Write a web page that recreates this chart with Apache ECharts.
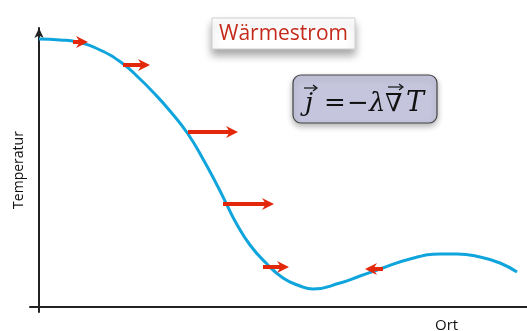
<!DOCTYPE html>
<html>
<head>
<meta charset="utf-8">
<script src="https://cdn.jsdelivr.net/npm/echarts@6/dist/echarts.min.js"></script>
<style>
  html, body { margin: 0; padding: 0; background: #fff; }
  #chart { width: 527px; height: 331px; }
</style>
</head>
<body>
<div id="chart"></div>
<script>
// Temperature profile along the position axis (arbitrary units)
const ortValues = [0, 21, 38, 61, 83, 101, 114, 131, 149, 164, 178, 187, 196, 211, 228, 244, 261, 274, 301, 321, 341, 371, 401, 418, 441, 461, 478];
const temperatur = [268, 267, 265, 257, 244, 228, 215, 196, 173, 148, 122, 104, 86, 62, 43, 29, 21, 18, 24, 31, 38, 48, 53, 53, 50, 44, 35];

// Heat-flux arrows: tail position, tip position, height
const flussStart = [34, 84, 149, 184, 224, 344];
const flussEnde  = [49, 111, 199, 235, 250, 326];
const flussHoehe = [265, 242, 175, 103, 40, 38];

const curveColor = '#0fa5dc';
const arrowColor = '#e3270b';
const ink = '#111';

const chart = echarts.init(document.getElementById('chart'), null, { renderer: 'canvas' });

const arrowData = flussStart.map((s, i) => [s, flussEnde[i], flussHoehe[i]]);

// small vector arrow placed over a formula symbol
function vecArrow(x0, x1, y) {
  return [
    { type: 'line', z: 12, shape: { x1: x0, y1: y, x2: x1 - 1, y2: y }, style: { stroke: ink, lineWidth: 1.2 } },
    { type: 'polyline', z: 12, shape: { points: [[x1 - 4, y - 3], [x1, y], [x1 - 4, y + 3]] }, style: { stroke: ink, lineWidth: 1.2, fill: null } }
  ];
}

function formulaText(x, text, italic, size) {
  return {
    type: 'text', x: x, y: 104, z: 11,
    style: {
      text: text, fontFamily: 'DejaVu Serif', fontStyle: italic ? 'italic' : 'normal',
      fontSize: size, fill: ink, verticalAlign: 'middle'
    }
  };
}

chart.setOption({
  animation: false,
  grid: { left: 30, right: 0, top: 28, bottom: 19, outerBoundsMode: 'none', containLabel: false },
  xAxis: {
    type: 'value', min: -9, max: 488,
    axisLine: { onZero: true, lineStyle: { color: '#222', width: 2 } },
    axisTick: { show: false }, axisLabel: { show: false }, splitLine: { show: false }
  },
  yAxis: {
    type: 'value', min: -5, max: 279,
    name: 'Temperatur', nameLocation: 'middle', nameGap: 4, nameRotate: 90,
    nameTextStyle: { fontFamily: 'Open Sans', fontSize: 14, color: ink },
    axisLine: { onZero: true, symbol: ['none', 'arrow'], symbolSize: [7, 10], lineStyle: { color: '#222', width: 2 } },
    axisTick: { show: false }, axisLabel: { show: false }, splitLine: { show: false }
  },
  series: [
    {
      type: 'line',
      data: ortValues.map((x, i) => [x, temperatur[i]]),
      smooth: 0.5,
      showSymbol: false,
      lineStyle: { color: curveColor, width: 3 },
      z: 2
    },
    {
      type: 'custom',
      data: arrowData,
      z: 3,
      renderItem: function (params, api) {
        const a = api.coord([api.value(0), api.value(2)]);
        const b = api.coord([api.value(1), api.value(2)]);
        const dir = b[0] >= a[0] ? 1 : -1;
        const headLen = 12, half = 6, notch = 2.5, thick = 2;
        const baseX = b[0] - dir * headLen;
        const y = a[1];
        return {
          type: 'polygon',
          shape: {
            points: [
              [a[0], y - thick], [baseX + dir * notch, y - thick], [baseX, y - half],
              [b[0], y],
              [baseX, y + half], [baseX + dir * notch, y + thick], [a[0], y + thick]
            ]
          },
          style: { fill: arrowColor }
        };
      }
    }
  ],
  graphic: [
    {
      type: 'text', left: 435, top: 318,
      style: { text: 'Ort', fontFamily: 'Open Sans', fontSize: 15, fill: ink }
    },
    {
      type: 'rect', shape: { x: 212, y: 18, width: 143, height: 31 },
      style: { fill: '#fff', stroke: '#cfcfcf', lineWidth: 1, shadowBlur: 8, shadowOffsetY: 6, shadowColor: 'rgba(0,0,0,0.35)' },
      z: 10
    },
    {
      type: 'text', x: 283.5, y: 34,
      style: { text: 'Wärmestrom', fontFamily: 'Open Sans', fontSize: 21, fill: '#c42b1c', align: 'center', verticalAlign: 'middle' },
      z: 11
    },
    {
      type: 'rect', shape: { x: 293, y: 75, width: 144, height: 48, r: 8 },
      style: { fill: '#c5c5dd', stroke: '#444', lineWidth: 1.2, shadowBlur: 6, shadowOffsetY: 3, shadowColor: 'rgba(0,0,0,0.3)' },
      z: 10
    },
    formulaText(305, 'j', true, 26),
    ...vecArrow(304, 317, 88),
    formulaText(324, '=', false, 26),
    formulaText(347, '−', false, 26),
    formulaText(369, 'λ', true, 26),
    formulaText(385, '∇', false, 25),
    ...vecArrow(388, 403, 87),
    formulaText(406, 'T', true, 27)
  ]
});
</script>
</body>
</html>
